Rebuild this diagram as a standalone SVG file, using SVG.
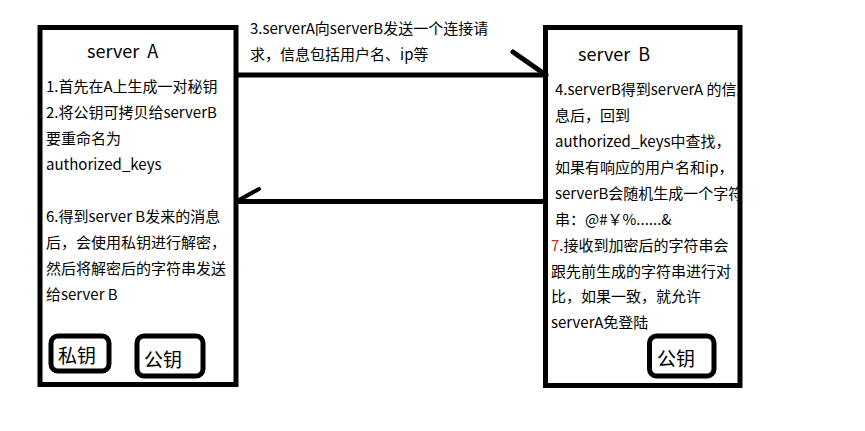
<svg xmlns="http://www.w3.org/2000/svg" width="865" height="431" viewBox="0 0 865 431">
<style>
.box{fill:#fff;stroke:#000;stroke-width:5}
.key{fill:none;stroke:#000;stroke-width:5}
.ln{stroke:#000;stroke-width:5;stroke-linecap:round;fill:none}
text{font-family:"Noto Sans CJK SC","Liberation Sans",sans-serif;font-size:15px;fill:#000;white-space:pre}
.t{font-size:18px}
.k{font-size:19px}
</style>
<defs>
<clipPath id="clipB"><rect x="545" y="27" width="195" height="358"/></clipPath>
</defs>
<rect width="865" height="431" fill="#fff"/>
<g id="serverA">
<rect class="box" x="40" y="27.5" width="196" height="357"/>
<text class="t" x="87" y="58">server  A</text>
<text x="46" y="92">1.首先在A上生成一对秘钥</text>
<text x="46" y="118">2.将公钥可拷贝给serverB</text>
<text x="46" y="144">要重命名为</text>
<text x="46" y="170">authorized_keys</text>
<text x="46" y="222">6.得到server B发来的消息</text>
<text x="46" y="248">后，会使用私钥进行解密，</text>
<text x="46" y="274">然后将解密后的字符串发送</text>
<text x="46" y="300">给server B</text>
</g>
<g id="privkeyA">
<rect class="key" x="51" y="336" width="58" height="35" rx="7"/>
<text class="k" x="58" y="363">私钥</text>
</g>
<g id="pubkeyA">
<rect class="key" x="137" y="336" width="66" height="40" rx="7"/>
<text class="k" x="144" y="367">公钥</text>
</g>
<g id="serverB">
<rect class="box" x="545.5" y="27.5" width="194.5" height="358"/>
<text class="t" x="578" y="61">server  B</text>
<g clip-path="url(#clipB)">
<text x="555" y="95">4.serverB得到serverA 的信息后</text>
</g>
<text x="555" y="121">息后，回到</text>
<text x="555" y="147">authorized_keys中查找，</text>
<text x="555" y="173">如果有响应的用户名和ip，</text>
<g clip-path="url(#clipB)">
<text x="555" y="199">serverB会随机生成一个字符</text>
</g>
<text x="555" y="225">串：@#￥%......&amp;</text>
<text x="551" y="251"><tspan fill="#e02020">7</tspan>.接收到加密后的字符串会</text>
<text x="551" y="277">跟先前生成的字符串进行对</text>
<text x="551" y="302">比，如果一致，就允许</text>
<text x="551" y="328">serverA免登陆</text>
</g>
<g id="pubkeyB">
<rect class="key" x="649.5" y="336" width="64.5" height="40" rx="7"/>
<text class="k" x="657" y="366">公钥</text>
</g>
<g id="connectors">
<line class="ln" x1="236" y1="75" x2="545" y2="75" style="stroke-linecap:butt"/>
<line class="ln" x1="513" y1="52" x2="546" y2="75"/>
<line class="ln" x1="236" y1="201.5" x2="545" y2="201.5" style="stroke-linecap:butt"/>
<line class="ln" x1="239" y1="200" x2="259" y2="189" style="stroke-width:4"/>
<text x="250" y="34">3.serverA向serverB发送一个连接请</text>
<text x="250" y="60">求，信息包括用户名、ip等</text>
</g>
</svg>
